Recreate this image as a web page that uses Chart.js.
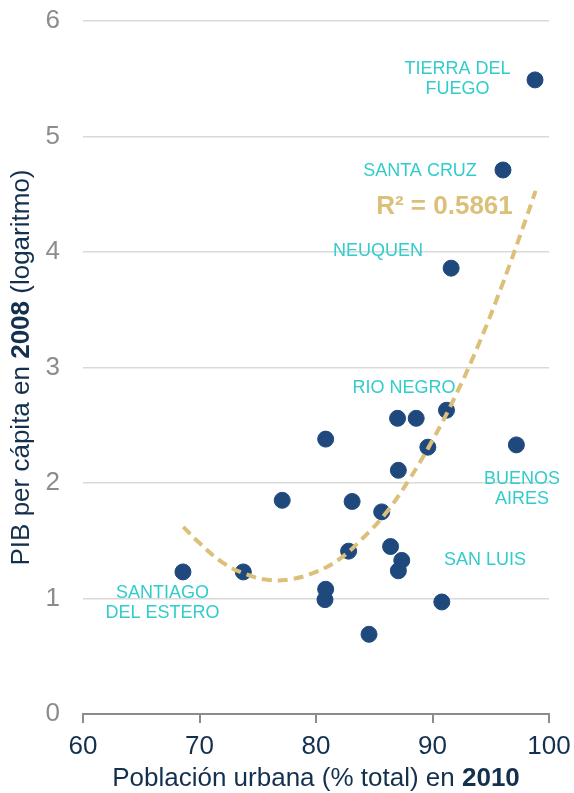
<!DOCTYPE html>
<html>
<head>
<meta charset="utf-8">
<script src="https://cdn.jsdelivr.net/npm/chart.js@4/dist/chart.umd.min.js"></script>
<style>
  html, body { margin: 0; padding: 0; background: #fff; }
  #wrap { width: 574px; height: 793px; }
</style>
</head>
<body>
<div id="wrap"><canvas id="myChart"></canvas></div>
<script>
// provinces: urban population % (2010) vs log GDP per capita (2008)
const urbanPct = [98.8, 96.05, 91.6, 91.2, 87.0, 88.6, 80.83, 89.6, 97.2, 87.07, 77.1, 83.1,
                  85.64, 82.8, 86.4, 87.36, 87.07, 80.83, 80.77, 90.8, 84.55, 68.58, 73.76];
const logGdp   = [5.49, 4.71, 3.86, 2.63, 2.56, 2.56, 2.38, 2.31, 2.33, 2.11, 1.85, 1.84,
                  1.75, 1.41, 1.45, 1.33, 1.24, 1.08, 0.99, 0.97, 0.69, 1.23, 1.23];

// dashed polynomial trend
const trendX = [68.6, 70, 72, 74, 76, 78, 80, 82, 84, 86, 88, 90, 92, 94, 96, 98, 98.85];
const trendY = [1.62, 1.48, 1.31, 1.21, 1.16, 1.17, 1.23, 1.34, 1.52, 1.74, 2.03, 2.37, 2.76, 3.21, 3.72, 4.28, 4.53];
const rSquared = '0.5861';

const xTicks = [60, 70, 80, 90, 100];
const yTicks = [0, 1, 2, 3, 4, 5, 6];

const provinceNames = ['TIERRA DEL\nFUEGO', 'SANTA CRUZ', 'NEUQUEN', 'RIO NEGRO',
                       'BUENOS\nAIRES', 'SAN LUIS', 'SANTIAGO\nDEL ESTERO'];

const NAVY = '#14304f';
const DOT = '#1f497d';
const CYAN = '#33cccc';
const TAN = '#dcc07a';

// where each name sits (data coords of text centre)
const namePos = [[92.15, 5.50], [88.93, 4.70], [85.32, 4.01], [87.55, 2.82],
                 [97.68, 1.95], [94.5, 1.33], [66.82, 0.96]];

const annotations = {
    id: 'annotations',
    afterDatasetsDraw(chart) {
        const ctx = chart.ctx;
        const xs = chart.scales.x, ys = chart.scales.y;
        ctx.save();
        ctx.fillStyle = CYAN;
        ctx.font = '18px "Liberation Sans", Arial, sans-serif';
        ctx.textAlign = 'center';
        ctx.textBaseline = 'middle';
        provinceNames.forEach((name, i) => {
            const lines = name.split('\n');
            const cx = xs.getPixelForValue(namePos[i][0]);
            const cy = ys.getPixelForValue(namePos[i][1]);
            const lh = 20;
            lines.forEach((ln, j) => {
                ctx.fillText(ln, cx, cy + (j - (lines.length - 1) / 2) * lh);
            });
        });
        // R² label
        ctx.fillStyle = TAN;
        ctx.font = 'bold 26px "Liberation Sans", Arial, sans-serif';
        ctx.fillText('R² = ' + rSquared, xs.getPixelForValue(91.03), ys.getPixelForValue(4.39));
        ctx.restore();
    },
    afterDraw(chart) {
        // axis titles with a bold year inside
        const ctx = chart.ctx;
        const area = chart.chartArea;
        const reg = '26px "Liberation Sans", Arial, sans-serif';
        const bold = 'bold 26px "Liberation Sans", Arial, sans-serif';
        const drawMixed = (parts, cx, cy) => {
            let total = 0;
            parts.forEach(p => { ctx.font = p[1] ? bold : reg; total += ctx.measureText(p[0]).width; });
            let x = cx - total / 2;
            parts.forEach(p => {
                ctx.font = p[1] ? bold : reg;
                ctx.fillText(p[0], x, cy);
                x += ctx.measureText(p[0]).width;
            });
        };
        ctx.save();
        ctx.fillStyle = NAVY;
        ctx.textAlign = 'left';
        ctx.textBaseline = 'middle';
        drawMixed([['Población urbana (% total) en ', false], ['2010', true]],
                  (area.left + area.right) / 2, 779);
        ctx.translate(22, (area.top + area.bottom) / 2);
        ctx.rotate(-Math.PI / 2);
        drawMixed([['PIB per cápita en ', false], ['2008', true], [' (logaritmo)', false]], 0, 0);
        ctx.restore();
    }
};

const ctx = document.getElementById('myChart').getContext('2d');
const myChart = new Chart(ctx, {
    type: 'scatter',
    data: {
        datasets: [{
            type: 'line',
            data: trendX.map((x, i) => ({ x: x, y: trendY[i] })),
            borderColor: TAN,
            borderWidth: 4,
            borderDash: [10, 6],
            pointRadius: 0,
            fill: false,
            tension: 0.4,
            order: 0
        }, {
            data: urbanPct.map((x, i) => ({ x: x, y: logGdp[i] })),
            backgroundColor: DOT,
            borderColor: DOT,
            pointRadius: 8,
            pointHoverRadius: 8,
            order: 1
        }]
    },
    options: {
        responsive: true,
        maintainAspectRatio: false,
        animation: false,
        layout: { padding: { top: 21, right: 25, left: 0, bottom: 0 } },
        plugins: { legend: { display: false }, tooltip: { enabled: false } },
        scales: {
            x: {
                type: 'linear',
                min: 60, max: 100,
                afterBuildTicks: s => { s.ticks = xTicks.map(v => ({ value: v })); },
                afterFit: s => { s.height = 79; s.paddingLeft = 0; s.paddingRight = 0; },
                ticks: {
                    color: NAVY,
                    padding: 8,
                    font: { family: '"Liberation Sans", Arial, sans-serif', size: 26 }
                },
                grid: { drawOnChartArea: false, drawTicks: true, tickLength: 9, color: '#8c8c8c', lineWidth: 2 },
                border: { display: true, color: '#8c8c8c', width: 2 }
            },
            y: {
                min: 0, max: 6,
                afterBuildTicks: s => { s.ticks = yTicks.map(v => ({ value: v })); },
                afterFit: s => { s.width = 83; s.paddingTop = 0; s.paddingBottom = 0; },
                ticks: {
                    color: '#8c8c8c',
                    padding: 23,
                    font: { family: '"Liberation Sans", Arial, sans-serif', size: 26 }
                },
                grid: { color: '#d9d9d9', lineWidth: 1.5, drawTicks: false },
                border: { display: false }
            }
        }
    },
    plugins: [annotations]
});
</script>
</body>
</html>
